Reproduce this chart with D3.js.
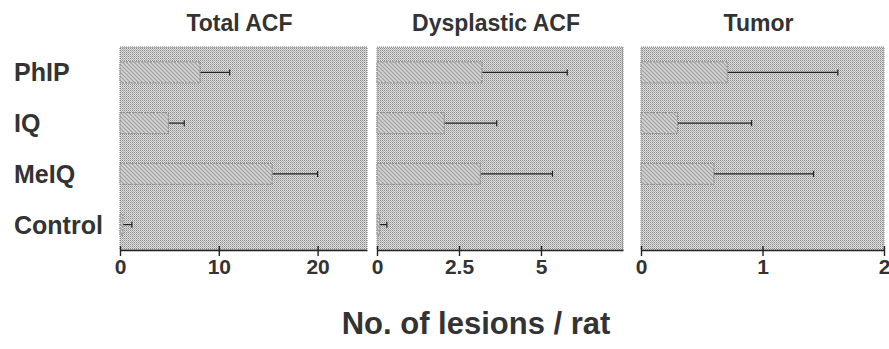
<!DOCTYPE html>
<html>
<head>
<meta charset="utf-8">
<script src="https://cdn.jsdelivr.net/npm/d3@7"></script>
<style>
  body { margin: 0; background: #fff; }
  svg { display: block; }
  text { font-family: "Liberation Sans", Arial, sans-serif; fill: #333; }
</style>
</head>
<body>
<svg id="chart" width="889" height="349"></svg>
<script>
// groups, top to bottom
const groups = ['PhIP', 'IQ', 'MeIQ', 'Control'];

// panel titles and x domains
const panelTitles = ['Total ACF', 'Dysplastic ACF', 'Tumor'];
const panelMax = [25, 7.5, 2];
const panelTicks = [[0, 10, 20], [0, 2.5, 5], [0, 1, 2]];

// means and upper error ends, in group order
const totalMean = [8.1, 4.9, 15.4, 0.3];
const totalErr = [11.1, 6.5, 20.0, 1.2];
const dysMean = [3.2, 2.05, 3.15, 0.08];
const dysErr = [5.8, 3.65, 5.35, 0.3];
const tumorMean = [0.71, 0.3, 0.6, 0];
const tumorErr = [1.62, 0.91, 1.42, 0];

const panelMeans = [totalMean, dysMean, tumorMean];
const panelErrs = [totalErr, dysErr, tumorErr];

const svg = d3.select('#chart');
const defs = svg.append('defs');

// stippled background (2x2 dot screen)
const stip = defs.append('pattern')
  .attr('id', 'stipple')
  .attr('patternUnits', 'userSpaceOnUse')
  .attr('width', 2).attr('height', 2);
stip.append('rect').attr('width', 2).attr('height', 2).attr('fill', '#dcdcdc');
stip.append('rect').attr('x', 0).attr('y', 0).attr('width', 1).attr('height', 1).attr('fill', '#8c8c8c');
stip.append('rect').attr('x', 1).attr('y', 1).attr('width', 1).attr('height', 1).attr('fill', '#b4b4b4');

// diagonal hatching for the bars
const hatch = defs.append('pattern')
  .attr('id', 'hatch')
  .attr('patternUnits', 'userSpaceOnUse')
  .attr('width', 4).attr('height', 4);
hatch.append('rect').attr('width', 4).attr('height', 4).attr('fill', '#d4d4d4');
hatch.append('path').attr('d', 'M0,0 L4,4 M-1,3 L1,5 M3,-1 L5,1')
  .attr('stroke', '#a0a0a0').attr('stroke-width', 1.2);

const panels = [
  { left: 120, right: 367 },
  { left: 377, right: 623 },
  { left: 641, right: 884 }
];
const plotTop = 47, plotBottom = 250;

const y = d3.scaleBand()
  .domain(groups)
  .range([plotTop, plotBottom])
  .paddingInner(0.586)
  .paddingOuter(0.293);

// group labels
svg.append('g').selectAll('text')
  .data(groups)
  .enter().append('text')
  .attr('x', 14)
  .attr('y', d => y(d) + y.bandwidth() / 2)
  .attr('dy', '0.36em')
  .attr('font-size', 25)
  .attr('font-weight', 'bold')
  .text(d => d);

panels.forEach((p, i) => {
  const x = d3.scaleLinear()
    .domain([0, panelMax[i]])
    .range([p.left, p.right]);

  const g = svg.append('g');

  // panel background
  g.append('rect')
    .attr('x', p.left).attr('y', plotTop)
    .attr('width', p.right - p.left).attr('height', plotBottom - plotTop)
    .attr('fill', 'url(#stipple)')
    .attr('stroke', '#7a7a7a')
    .attr('stroke-width', 1)
    .attr('stroke-dasharray', '1,1');

  // title
  g.append('text')
    .attr('x', (p.left + p.right) / 2 - 4)
    .attr('y', 31)
    .attr('text-anchor', 'middle')
    .attr('font-size', 23)
    .attr('font-weight', 'bold')
    .text(panelTitles[i]);

  const rows = groups.map((d, k) => ({ name: d, mean: panelMeans[i][k], err: panelErrs[i][k] }));

  // error bars
  const eb = g.append('g').selectAll('g')
    .data(rows.filter(d => d.err > d.mean))
    .enter().append('g');
  eb.append('line')
    .attr('x1', d => x(d.mean)).attr('x2', d => x(d.err))
    .attr('y1', d => y(d.name) + y.bandwidth() / 2)
    .attr('y2', d => y(d.name) + y.bandwidth() / 2)
    .attr('stroke', '#222').attr('stroke-width', 1.2);
  eb.append('line')
    .attr('x1', d => x(d.err)).attr('x2', d => x(d.err))
    .attr('y1', d => y(d.name) + y.bandwidth() / 2 - 3)
    .attr('y2', d => y(d.name) + y.bandwidth() / 2 + 3)
    .attr('stroke', '#222').attr('stroke-width', 1.2);

  // bars
  g.append('g').selectAll('rect')
    .data(rows.filter(d => d.mean > 0))
    .enter().append('rect')
    .attr('x', x(0))
    .attr('y', d => y(d.name))
    .attr('width', d => x(d.mean) - x(0))
    .attr('height', y.bandwidth())
    .attr('fill', 'url(#hatch)')
    .attr('stroke', '#8a8a8a')
    .attr('stroke-width', 1)
    .attr('stroke-dasharray', '2,1');

  // x axis
  const axis = g.append('g')
    .attr('transform', `translate(0,${plotBottom})`)
    .call(d3.axisBottom(x).tickValues(panelTicks[i]).tickSize(6).tickSizeOuter(0)
      .tickFormat(d => String(d)));
  axis.select('.domain').attr('stroke', '#222').attr('stroke-width', 1.6);
  axis.selectAll('.tick line').attr('stroke', '#222').attr('stroke-width', 1.4)
    .attr('y1', -4);
  axis.selectAll('.tick text')
    .attr('y', 9)
    .attr('font-size', 21)
    .attr('font-weight', 'bold')
    .attr('font-family', '"Liberation Sans", Arial, sans-serif')
    .attr('fill', '#333');
});

// shared axis label
svg.append('text')
  .attr('x', 476)
  .attr('y', 334)
  .attr('text-anchor', 'middle')
  .attr('font-size', 31)
  .attr('font-weight', 'bold')
  .text('No. of lesions / rat');
</script>
</body>
</html>
